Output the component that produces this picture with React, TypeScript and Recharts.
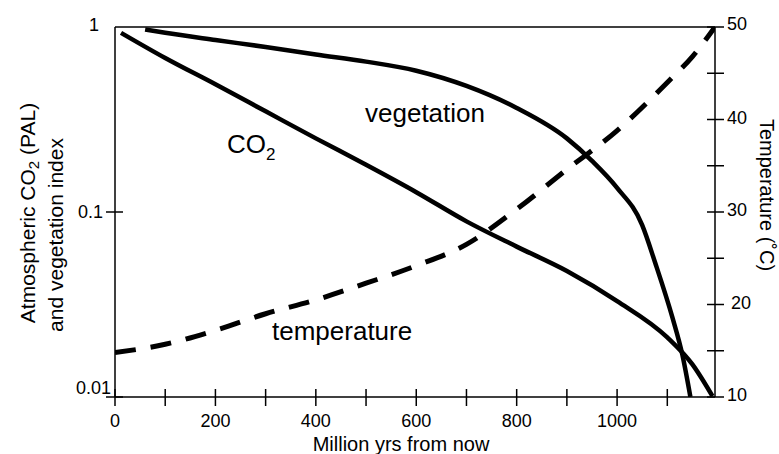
import React from 'react';
import { ComposedChart, Line, XAxis, YAxis } from 'recharts';

// Data
const co2Years = [12, 100, 200, 300, 400, 500, 600, 700, 800, 900, 1000, 1100, 1150, 1190];
const co2Values = [0.93, 0.68, 0.49, 0.35, 0.25, 0.18, 0.128, 0.089, 0.065, 0.048, 0.033, 0.021, 0.015, 0.0101];

const vegYears = [60, 100, 200, 300, 400, 500, 600, 700, 800, 900, 950, 1000, 1050, 1076, 1110, 1130, 1146];
const vegValues = [0.97, 0.93, 0.85, 0.78, 0.71, 0.65, 0.58, 0.48, 0.365, 0.25, 0.189, 0.135, 0.085, 0.053, 0.027, 0.0169, 0.01];

const tempYears = [0, 100, 200, 300, 400, 500, 600, 700, 800, 900, 1000, 1100, 1150, 1195];
const tempValues = [14.8, 15.7, 17.2, 19.0, 20.5, 22.3, 24.2, 26.5, 30.3, 34.6, 38.8, 44, 46.8, 50];

const xTicksBottom = [0, 100, 200, 300, 400, 500, 600, 700, 800, 900, 1000, 1100];
const xTicksTop = [100, 200, 300, 400, 500, 600, 700, 800, 900, 1000, 1100];
const xLabeled = [0, 200, 400, 600, 800, 1000];
const leftTicks = [0.01, 0.1, 1];
const leftLabels = ['0.01', '0.1', '1'];
const rightTicks = [10, 15, 20, 25, 30, 35, 40, 45, 50];
const rightLabeled = [10, 20, 30, 40, 50];

const co2Data = co2Years.map((x, i) => ({ x, y: co2Values[i] }));
const vegData = vegYears.map((x, i) => ({ x, y: vegValues[i] }));
const tempData = tempYears.map((x, i) => ({ x, t: tempValues[i] }));

const FONT = "'Liberation Sans', Arial, Helvetica, sans-serif";
const TICK_FS = 18;

const BottomTick = (props: any) => {
  const { x, y, payload } = props;
  const v = payload.value;
  return (
    <g>
      <line x1={x} x2={x} y1={y - 8} y2={y + 9} stroke="#000" strokeWidth={1.5} />
      {xLabeled.includes(v) && (
        <text x={x} y={y + 30} textAnchor="middle" fontSize={TICK_FS} fontFamily={FONT} fill="#000">
          {v}
        </text>
      )}
    </g>
  );
};

const TopTick = (props: any) => {
  const { x, y } = props;
  return <line x1={x} x2={x} y1={y - 9} y2={y + 8} stroke="#000" strokeWidth={1.5} />;
};

const LeftTick = (props: any) => {
  const { x, y, payload } = props;
  const v = payload.value;
  const idx = leftTicks.indexOf(v);
  const label = leftLabels[idx];
  let dx = -12;
  let dy = 0;
  if (v === 0.01) { dx = -4; dy = -9; }
  if (v === 1) { dx = -16; dy = -2; }
  return (
    <g>
      {v !== 1 && <line x1={x - 9} x2={x + 8} y1={y} y2={y} stroke="#000" strokeWidth={1.5} />}
      <text x={x + dx} y={y + dy} textAnchor="end" dominantBaseline="central" fontSize={TICK_FS} fontFamily={FONT} fill="#000">
        {label}
      </text>
    </g>
  );
};

const RightTick = (props: any) => {
  const { x, y, payload } = props;
  const v = payload.value;
  return (
    <g>
      <line x1={x - 8} x2={x + 9} y1={y} y2={y} stroke="#000" strokeWidth={1.5} />
      {rightLabeled.includes(v) && (
        <text x={x + (v === 20 ? 16 : 12)} y={y + (v === 50 ? -3 : -2)} textAnchor="start" dominantBaseline="central" fontSize={TICK_FS} fontFamily={FONT} fill="#000">
          {v}
        </text>
      )}
    </g>
  );
};

const axisLine = { stroke: '#000', strokeWidth: 1.5 };

export default function App() {
  return (
    <div style={{ position: 'absolute', left: 0, top: 0, width: 779, height: 454, background: '#fff' }}>
      <ComposedChart
        width={779}
        height={454}
        margin={{ top: 17, right: 4, bottom: 27, left: 55 }}
        style={{ position: 'absolute', left: 0, top: 0 }}
      >
        <XAxis
          xAxisId="b"
          dataKey="x"
          type="number"
          domain={[0, 1195]}
          ticks={xTicksBottom}
          tick={<BottomTick />}
          tickLine={false}
          tickSize={0}
          tickMargin={0}
          axisLine={axisLine}
          height={30}
          allowDataOverflow
          interval={0}
        />
        <XAxis
          xAxisId="t"
          orientation="top"
          type="number"
          domain={[0, 1195]}
          ticks={xTicksTop}
          tick={<TopTick />}
          tickLine={false}
          tickSize={0}
          tickMargin={0}
          axisLine={axisLine}
          height={10}
          interval={0}
        />
        <YAxis
          yAxisId="l"
          type="number"
          scale="log"
          domain={[0.01, 1]}
          ticks={leftTicks}
          tick={<LeftTick />}
          tickLine={false}
          tickSize={0}
          tickMargin={0}
          axisLine={axisLine}
          width={60}
          allowDataOverflow
          interval={0}
        />
        <YAxis
          yAxisId="r"
          orientation="right"
          type="number"
          domain={[10, 50]}
          ticks={rightTicks}
          tick={<RightTick />}
          tickLine={false}
          tickSize={0}
          tickMargin={0}
          axisLine={axisLine}
          width={60}
          allowDataOverflow
          interval={0}
        />
        <Line
          xAxisId="b"
          yAxisId="l"
          data={co2Data}
          dataKey="y"
          type="monotone"
          stroke="#000"
          strokeWidth={4.5}
          dot={false}
          activeDot={false}
          isAnimationActive={false}
        />
        <Line
          xAxisId="b"
          yAxisId="l"
          data={vegData}
          dataKey="y"
          type="monotone"
          stroke="#000"
          strokeWidth={4.5}
          dot={false}
          activeDot={false}
          isAnimationActive={false}
        />
        <Line
          xAxisId="b"
          yAxisId="r"
          data={tempData}
          dataKey="t"
          type="monotone"
          stroke="#000"
          strokeWidth={5}
          strokeDasharray="21 15"
          dot={false}
          activeDot={false}
          isAnimationActive={false}
        />
      </ComposedChart>
      <svg
        width={779}
        height={454}
        style={{ position: 'absolute', left: 0, top: 0, pointerEvents: 'none' }}
        fontFamily={FONT}
      >
        <text x={365} y={122} fontSize={26} fill="#000">vegetation</text>
        <text x={227} y={153} fontSize={26} fill="#000">
          CO<tspan fontSize={17} dy={7}>2</tspan>
        </text>
        <text x={272} y={340} fontSize={26} fill="#000">temperature</text>
        <text x={401} y={451} fontSize={20} textAnchor="middle" fill="#000">Million yrs from now</text>
        <text transform="translate(35,213) rotate(-90)" fontSize={21} textAnchor="middle" fill="#000">
          Atmospheric CO<tspan fontSize={15} dy={4}>2</tspan><tspan dy={-4}> (PAL)</tspan>
        </text>
        <text transform="translate(63,235) rotate(-90)" fontSize={21} textAnchor="middle" fill="#000">
          and vegetation index
        </text>
        <text transform="translate(760,195) rotate(90)" fontSize={20} textAnchor="middle" fill="#000">
          Temperature (˚C)
        </text>
      </svg>
    </div>
  );
}
